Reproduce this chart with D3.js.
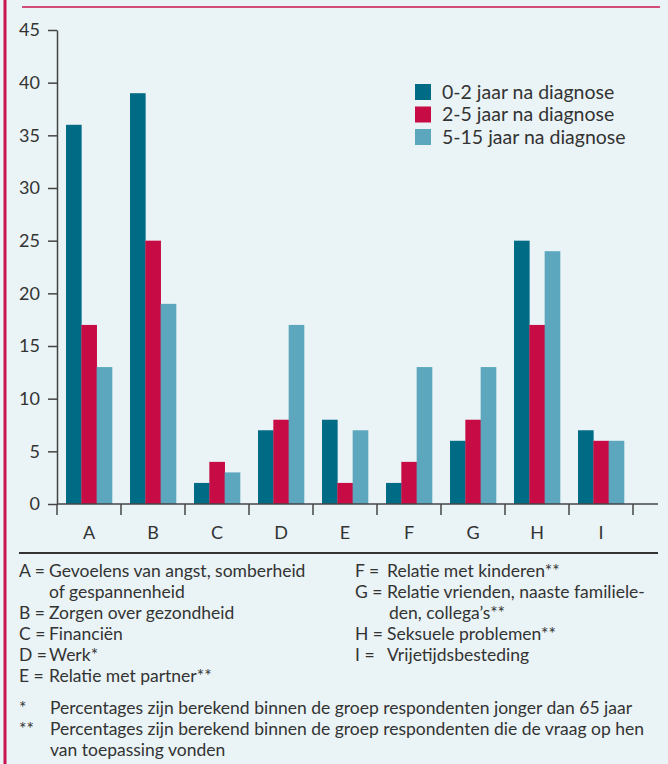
<!DOCTYPE html>
<html><head><meta charset="utf-8">
<script src="https://cdn.jsdelivr.net/npm/d3@7/dist/d3.min.js"></script>
<style>
html,body{margin:0;padding:0;background:#eaf3f6;}
svg{display:block;}
text{font-family:Lato,"Open Sans",sans-serif;fill:#333;}
</style></head>
<body>
<svg id="c" width="668" height="764"></svg>
<script>
const categories = ["A","B","C","D","E","F","G","H","I"];
const seriesNames = ["0-2 jaar na diagnose","2-5 jaar na diagnose","5-15 jaar na diagnose"];
const s02 = [36, 39, 2, 7, 8, 2, 6, 25, 7];
const s25 = [17, 25, 4, 8, 2, 4, 8, 17, 6];
const s515 = [13, 19, 3, 17, 7, 13, 13, 24, 6];
const yTicks = [0,5,10,15,20,25,30,35,40,45];
const colors = ["#006b85","#c60b45","#5ca7bd"];
const legendLeft = [
  ["A =", "Gevoelens van angst, somberheid"],
  ["", "of gespannenheid"],
  ["B =", "Zorgen over gezondheid"],
  ["C =", "Financiën"],
  ["D =", "Werk*"],
  ["E =", "Relatie met partner**"]
];
const legendRight = [
  ["F  =", "Relatie met kinderen**"],
  ["G =", "Relatie vrienden, naaste familiele-"],
  ["", "den, collega’s**"],
  ["H =", "Seksuele problemen**"],
  ["I   =", "Vrijetijdsbesteding"]
];
const footnotes = [
  ["*", "Percentages zijn berekend binnen de groep respondenten jonger dan 65 jaar"],
  ["**", "Percentages zijn berekend binnen de groep respondenten die de vraag op hen"],
  ["", "van toepassing vonden"]
];

const svg = d3.select("#c");
const series = [s02, s25, s515];

// frame decorations
svg.append("rect").attr("x",0).attr("y",0).attr("width",668).attr("height",764).attr("fill","#eaf3f6");
svg.append("line").attr("x1",5).attr("x2",5).attr("y1",0).attr("y2",764).attr("stroke","#c8164e").attr("stroke-width",3);
svg.append("line").attr("x1",22).attr("x2",660).attr("y1",7).attr("y2",7).attr("stroke","#c8164e").attr("stroke-width",1.5);

const y = d3.scaleLinear().domain([0,45]).range([504,30]);
const x0 = d3.scaleBand().domain(categories).range([57,633]);
const x1 = d3.scaleBand().domain(d3.range(3)).range([9,55]);

// bars
categories.forEach((c,i)=>{
  series.forEach((s,j)=>{
    svg.append("rect")
      .attr("x", x0(c)+x1(j))
      .attr("y", y(s[i]))
      .attr("width", x1.bandwidth()+0.3)
      .attr("height", y(0)-y(s[i]))
      .attr("fill", colors[j]);
  });
});

// y axis
const yAxis = svg.append("g").attr("transform","translate(57,0)")
  .call(d3.axisLeft(y).tickValues(yTicks).tickSize(9).tickSizeOuter(0));
yAxis.select(".domain").attr("stroke","#444").attr("stroke-width",1.5);
yAxis.selectAll(".tick line").attr("stroke","#444").attr("stroke-width",1.5);
yAxis.selectAll(".tick text").attr("x",-17).attr("font-size",18).attr("fill","#333")
  .style("font-family","Lato,'Open Sans',sans-serif");

// x axis line
svg.append("line").attr("x1",57).attr("x2",658).attr("y1",504).attr("y2",504).attr("stroke","#444").attr("stroke-width",1.5);
const bounds = categories.map(c=>x0(c)).concat([x0.range()[1]]);
svg.selectAll(".xt").data(bounds).enter().append("line")
  .attr("x1",d=>d).attr("x2",d=>d).attr("y1",504).attr("y2",515)
  .attr("stroke","#444").attr("stroke-width",1.5);
svg.selectAll(".xl").data(categories).enter().append("text")
  .attr("x",d=>x0(d)+x0.bandwidth()/2).attr("y",539)
  .attr("text-anchor","middle").attr("font-size",18).text(d=>d);

// legend
const lg = svg.append("g").attr("transform","translate(415,84)");
seriesNames.forEach((n,i)=>{
  lg.append("rect").attr("x",0).attr("y",i*22.5).attr("width",16).attr("height",16).attr("fill",colors[i]);
  lg.append("text").attr("x",27).attr("y",i*22.5+14.5).attr("font-size",19.5).text(n);
});

// divider
svg.append("line").attr("x1",19).attr("x2",658).attr("y1",553).attr("y2",553).attr("stroke","#333").attr("stroke-width",2);

// key text
const fs = 17.5;
legendLeft.forEach((r,i)=>{
  const yy = 577 + i*21;
  svg.append("text").attr("x",19).attr("y",yy).attr("font-size",fs).text(r[0]);
  svg.append("text").attr("x",49).attr("y",yy).attr("font-size",fs).text(r[1]);
});
legendRight.forEach((r,i)=>{
  const yy = 577 + i*21;
  svg.append("text").attr("x",355).attr("y",yy).attr("font-size",fs).text(r[0]);
  svg.append("text").attr("x",r[0]?387:389).attr("y",yy).attr("font-size",fs).text(r[1]);
});
footnotes.forEach((r,i)=>{
  const yy = 714 + i*21;
  svg.append("text").attr("x",19).attr("y",yy).attr("font-size",fs).text(r[0]);
  svg.append("text").attr("x",50).attr("y",yy).attr("font-size",fs).text(r[1]);
});
</script>
</body></html>
